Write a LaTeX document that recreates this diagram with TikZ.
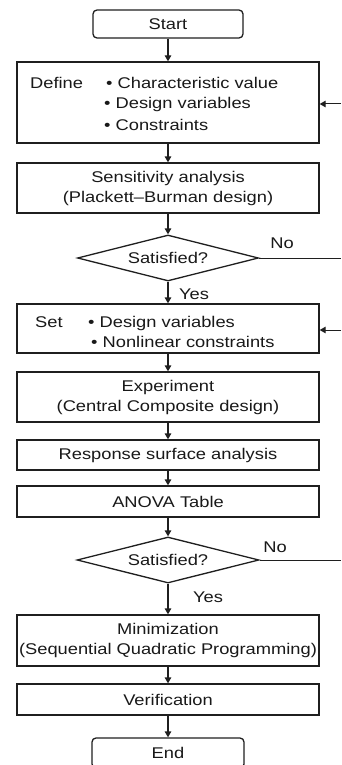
\documentclass[tikz,border=0pt]{standalone}
\usepackage{fontspec}
\setmainfont{Liberation Sans}[FakeStretch=1.18]
\usetikzlibrary{shapes.geometric,arrows.meta}
\newcommand\chartfont{\fontsize{15.5}{20}\selectfont}
\begin{document}
\begin{tikzpicture}[x=1pt,y=-1pt,
  stroke/.style={draw=black!88, line width=1.3pt},
  box/.style={stroke, rectangle, inner sep=0pt, align=center, font=\chartfont, text=black!90},
  terminal/.style={box, rounded corners=4pt},
  decision/.style={stroke, diamond, aspect=3.93, inner sep=0pt, font=\chartfont, text=black!90},
  lbl/.style={inner sep=0pt, font=\chartfont, text=black!90},
  flow/.style={stroke, -{Triangle[length=6pt,width=6.5pt]}},
  plain/.style={stroke, line width=1pt}]
  % page
  \fill[white] (0,0) rectangle (341,765);
  \useasboundingbox (0,0) rectangle (341,765);

  % main column
  \node[terminal, minimum width=150pt, minimum height=28pt] (start) at (168,24) {Start};
  \node[box, minimum width=302pt, minimum height=81pt] (define) at (168,102.5) {};
  \node[box, minimum width=302pt, minimum height=50pt] (sens) at (168,188)
    {Sensitivity analysis\\(Plackett–Burman design)};
  \node[decision, minimum width=181pt, minimum height=46pt] (sat1) at (168,258) {Satisfied?};
  \node[box, minimum width=302pt, minimum height=49pt] (set) at (168,328.5) {};
  \node[box, minimum width=302pt, minimum height=50pt] (exp) at (168,397)
    {Experiment\\(Central Composite design)};
  \node[box, minimum width=302pt, minimum height=30pt] (rsa) at (168,455) {Response surface analysis};
  \node[box, minimum width=302pt, minimum height=31pt] (anova) at (168,501.5) {ANOVA Table};
  \node[decision, minimum width=182pt, minimum height=46pt] (sat2) at (168,560) {Satisfied?};
  \node[box, minimum width=302pt, minimum height=51pt] (mini) at (168,640.5)
    {Minimization\\(Sequential Quadratic Programming)};
  \node[box, minimum width=302pt, minimum height=31pt] (verif) at (168,699.5) {Verification};
  \node[terminal, minimum width=152pt, minimum height=30pt] (end) at (168,753) {End};

  % contents of the Define box
  \node[lbl, anchor=base west] (deftxt) at (30,89) {Define};
  \node[lbl, anchor=base west] (def1) at (106,89) {• Characteristic value};
  \node[lbl, anchor=base west] (def2) at (104,109) {• Design variables};
  \node[lbl, anchor=base west] (def3) at (104,130) {• Constraints};

  % contents of the Set box
  \node[lbl, anchor=base west] (settxt) at (35,327) {Set};
  \node[lbl, anchor=base west] (set1) at (88,327) {• Design variables};
  \node[lbl, anchor=base west] (set2) at (91,347) {• Nonlinear constraints};

  % branch labels
  \node[lbl] (no1) at (282,243) {No};
  \node[lbl] (yes1) at (194,294) {Yes};
  \node[lbl] (no2) at (275,547) {No};
  \node[lbl] (yes2) at (208,597) {Yes};

  % downward flow
  \draw[flow] (start) -- (define);
  \draw[flow] (define) -- (sens);
  \draw[flow] (sens) -- (sat1);
  \draw[flow] (sat1) -- (set);
  \draw[flow] (set) -- (exp);
  \draw[flow] (exp) -- (rsa);
  \draw[flow] (rsa) -- (anova);
  \draw[flow] (anova) -- (sat2);
  \draw[flow] (sat2) -- (mini);
  \draw[flow] (mini) -- (verif);
  \draw[flow] (verif) -- (end);

  % "No" branches and return arrows at the right edge
  \coordinate (ret1) at (341,104);
  \coordinate (ret2) at (341,330);
  \coordinate (out1) at (341,258);
  \coordinate (out2) at (341,560);
  \draw[plain] (sat1.east) -- (out1);
  \draw[plain] (sat2.east) -- (out2);
  \draw[flow, line width=1pt] (ret1) -- (ret1 -| define.east);
  \draw[flow, line width=1pt] (ret2) -- (ret2 -| set.east);
\end{tikzpicture}
\end{document}
